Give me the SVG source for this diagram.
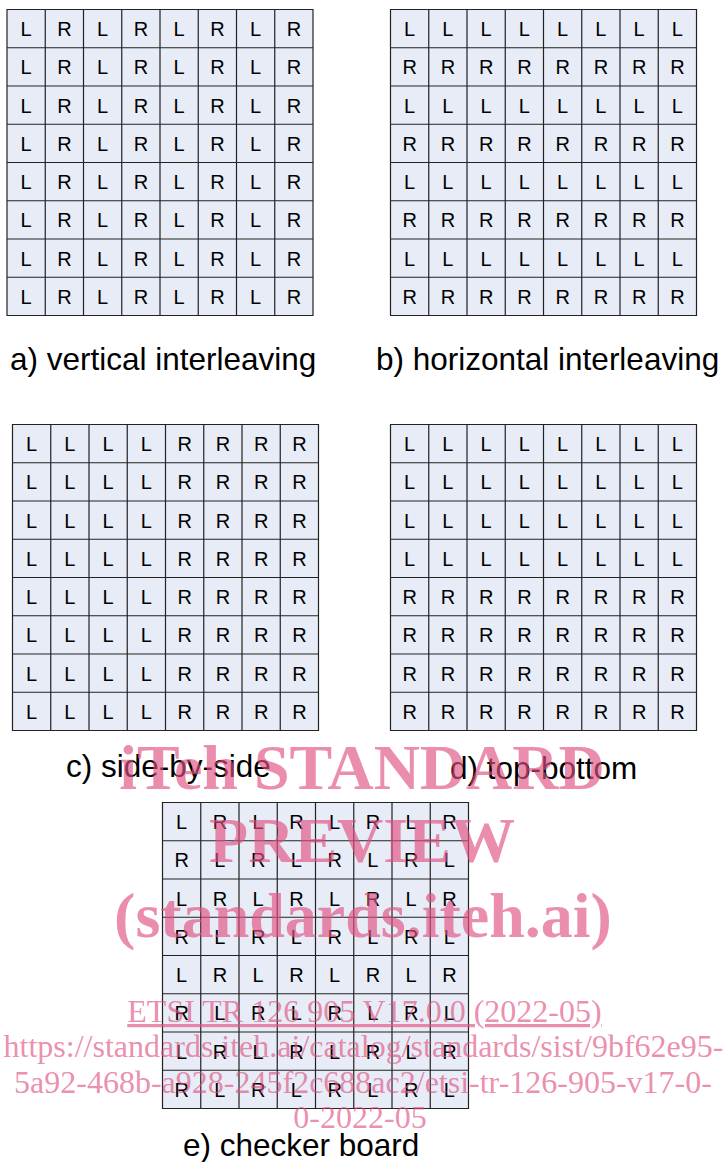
<svg xmlns="http://www.w3.org/2000/svg" width="727" height="1162" viewBox="0 0 727 1162">
<style>
.bg{fill:#e7ecf6;stroke:none}
.gl{fill:none;stroke:#222;stroke-width:1.2}
.c{font-family:"Liberation Sans",Arial,sans-serif;font-size:20px;fill:#000;text-anchor:middle}
.lbl{font-family:"Liberation Sans",Arial,sans-serif;font-size:31.5px;fill:#000}
.wm{font-family:"Liberation Serif","Times New Roman",serif;fill:#e0507f;fill-opacity:0.65;text-anchor:middle}
.wb{font-size:64px;font-weight:bold}
.wr{font-size:32px}
</style>
<defs>
<g id="grid">
<rect class="bg" x="0" y="0" width="306" height="306"/>
<path class="gl" d="M0 0H306V306H0Z M38.25 0V306 M76.5 0V306 M114.75 0V306 M153 0V306 M191.25 0V306 M229.5 0V306 M267.75 0V306 M0 38.25H306 M0 76.5H306 M0 114.75H306 M0 153H306 M0 191.25H306 M0 229.5H306 M0 267.75H306"/>
</g>
</defs>

<g id="panel-a" transform="translate(7,9.5)">
<use href="#grid"/>
<text class="c" x="19.13" y="26.6">L</text><text class="c" x="57.38" y="26.6">R</text><text class="c" x="95.63" y="26.6">L</text><text class="c" x="133.88" y="26.6">R</text><text class="c" x="172.13" y="26.6">L</text><text class="c" x="210.38" y="26.6">R</text><text class="c" x="248.63" y="26.6">L</text><text class="c" x="286.88" y="26.6">R</text>
<text class="c" x="19.13" y="64.85">L</text><text class="c" x="57.38" y="64.85">R</text><text class="c" x="95.63" y="64.85">L</text><text class="c" x="133.88" y="64.85">R</text><text class="c" x="172.13" y="64.85">L</text><text class="c" x="210.38" y="64.85">R</text><text class="c" x="248.63" y="64.85">L</text><text class="c" x="286.88" y="64.85">R</text>
<text class="c" x="19.13" y="103.1">L</text><text class="c" x="57.38" y="103.1">R</text><text class="c" x="95.63" y="103.1">L</text><text class="c" x="133.88" y="103.1">R</text><text class="c" x="172.13" y="103.1">L</text><text class="c" x="210.38" y="103.1">R</text><text class="c" x="248.63" y="103.1">L</text><text class="c" x="286.88" y="103.1">R</text>
<text class="c" x="19.13" y="141.35">L</text><text class="c" x="57.38" y="141.35">R</text><text class="c" x="95.63" y="141.35">L</text><text class="c" x="133.88" y="141.35">R</text><text class="c" x="172.13" y="141.35">L</text><text class="c" x="210.38" y="141.35">R</text><text class="c" x="248.63" y="141.35">L</text><text class="c" x="286.88" y="141.35">R</text>
<text class="c" x="19.13" y="179.6">L</text><text class="c" x="57.38" y="179.6">R</text><text class="c" x="95.63" y="179.6">L</text><text class="c" x="133.88" y="179.6">R</text><text class="c" x="172.13" y="179.6">L</text><text class="c" x="210.38" y="179.6">R</text><text class="c" x="248.63" y="179.6">L</text><text class="c" x="286.88" y="179.6">R</text>
<text class="c" x="19.13" y="217.85">L</text><text class="c" x="57.38" y="217.85">R</text><text class="c" x="95.63" y="217.85">L</text><text class="c" x="133.88" y="217.85">R</text><text class="c" x="172.13" y="217.85">L</text><text class="c" x="210.38" y="217.85">R</text><text class="c" x="248.63" y="217.85">L</text><text class="c" x="286.88" y="217.85">R</text>
<text class="c" x="19.13" y="256.1">L</text><text class="c" x="57.38" y="256.1">R</text><text class="c" x="95.63" y="256.1">L</text><text class="c" x="133.88" y="256.1">R</text><text class="c" x="172.13" y="256.1">L</text><text class="c" x="210.38" y="256.1">R</text><text class="c" x="248.63" y="256.1">L</text><text class="c" x="286.88" y="256.1">R</text>
<text class="c" x="19.13" y="294.35">L</text><text class="c" x="57.38" y="294.35">R</text><text class="c" x="95.63" y="294.35">L</text><text class="c" x="133.88" y="294.35">R</text><text class="c" x="172.13" y="294.35">L</text><text class="c" x="210.38" y="294.35">R</text><text class="c" x="248.63" y="294.35">L</text><text class="c" x="286.88" y="294.35">R</text>
</g>

<g id="panel-b" transform="translate(390.5,9.5)">
<use href="#grid"/>
<text class="c" x="19.13" y="26.6">L</text><text class="c" x="57.38" y="26.6">L</text><text class="c" x="95.63" y="26.6">L</text><text class="c" x="133.88" y="26.6">L</text><text class="c" x="172.13" y="26.6">L</text><text class="c" x="210.38" y="26.6">L</text><text class="c" x="248.63" y="26.6">L</text><text class="c" x="286.88" y="26.6">L</text>
<text class="c" x="19.13" y="64.85">R</text><text class="c" x="57.38" y="64.85">R</text><text class="c" x="95.63" y="64.85">R</text><text class="c" x="133.88" y="64.85">R</text><text class="c" x="172.13" y="64.85">R</text><text class="c" x="210.38" y="64.85">R</text><text class="c" x="248.63" y="64.85">R</text><text class="c" x="286.88" y="64.85">R</text>
<text class="c" x="19.13" y="103.1">L</text><text class="c" x="57.38" y="103.1">L</text><text class="c" x="95.63" y="103.1">L</text><text class="c" x="133.88" y="103.1">L</text><text class="c" x="172.13" y="103.1">L</text><text class="c" x="210.38" y="103.1">L</text><text class="c" x="248.63" y="103.1">L</text><text class="c" x="286.88" y="103.1">L</text>
<text class="c" x="19.13" y="141.35">R</text><text class="c" x="57.38" y="141.35">R</text><text class="c" x="95.63" y="141.35">R</text><text class="c" x="133.88" y="141.35">R</text><text class="c" x="172.13" y="141.35">R</text><text class="c" x="210.38" y="141.35">R</text><text class="c" x="248.63" y="141.35">R</text><text class="c" x="286.88" y="141.35">R</text>
<text class="c" x="19.13" y="179.6">L</text><text class="c" x="57.38" y="179.6">L</text><text class="c" x="95.63" y="179.6">L</text><text class="c" x="133.88" y="179.6">L</text><text class="c" x="172.13" y="179.6">L</text><text class="c" x="210.38" y="179.6">L</text><text class="c" x="248.63" y="179.6">L</text><text class="c" x="286.88" y="179.6">L</text>
<text class="c" x="19.13" y="217.85">R</text><text class="c" x="57.38" y="217.85">R</text><text class="c" x="95.63" y="217.85">R</text><text class="c" x="133.88" y="217.85">R</text><text class="c" x="172.13" y="217.85">R</text><text class="c" x="210.38" y="217.85">R</text><text class="c" x="248.63" y="217.85">R</text><text class="c" x="286.88" y="217.85">R</text>
<text class="c" x="19.13" y="256.1">L</text><text class="c" x="57.38" y="256.1">L</text><text class="c" x="95.63" y="256.1">L</text><text class="c" x="133.88" y="256.1">L</text><text class="c" x="172.13" y="256.1">L</text><text class="c" x="210.38" y="256.1">L</text><text class="c" x="248.63" y="256.1">L</text><text class="c" x="286.88" y="256.1">L</text>
<text class="c" x="19.13" y="294.35">R</text><text class="c" x="57.38" y="294.35">R</text><text class="c" x="95.63" y="294.35">R</text><text class="c" x="133.88" y="294.35">R</text><text class="c" x="172.13" y="294.35">R</text><text class="c" x="210.38" y="294.35">R</text><text class="c" x="248.63" y="294.35">R</text><text class="c" x="286.88" y="294.35">R</text>
</g>

<g id="panel-c" transform="translate(12.5,424.5)">
<use href="#grid"/>
<text class="c" x="19.13" y="26.6">L</text><text class="c" x="57.38" y="26.6">L</text><text class="c" x="95.63" y="26.6">L</text><text class="c" x="133.88" y="26.6">L</text><text class="c" x="172.13" y="26.6">R</text><text class="c" x="210.38" y="26.6">R</text><text class="c" x="248.63" y="26.6">R</text><text class="c" x="286.88" y="26.6">R</text>
<text class="c" x="19.13" y="64.85">L</text><text class="c" x="57.38" y="64.85">L</text><text class="c" x="95.63" y="64.85">L</text><text class="c" x="133.88" y="64.85">L</text><text class="c" x="172.13" y="64.85">R</text><text class="c" x="210.38" y="64.85">R</text><text class="c" x="248.63" y="64.85">R</text><text class="c" x="286.88" y="64.85">R</text>
<text class="c" x="19.13" y="103.1">L</text><text class="c" x="57.38" y="103.1">L</text><text class="c" x="95.63" y="103.1">L</text><text class="c" x="133.88" y="103.1">L</text><text class="c" x="172.13" y="103.1">R</text><text class="c" x="210.38" y="103.1">R</text><text class="c" x="248.63" y="103.1">R</text><text class="c" x="286.88" y="103.1">R</text>
<text class="c" x="19.13" y="141.35">L</text><text class="c" x="57.38" y="141.35">L</text><text class="c" x="95.63" y="141.35">L</text><text class="c" x="133.88" y="141.35">L</text><text class="c" x="172.13" y="141.35">R</text><text class="c" x="210.38" y="141.35">R</text><text class="c" x="248.63" y="141.35">R</text><text class="c" x="286.88" y="141.35">R</text>
<text class="c" x="19.13" y="179.6">L</text><text class="c" x="57.38" y="179.6">L</text><text class="c" x="95.63" y="179.6">L</text><text class="c" x="133.88" y="179.6">L</text><text class="c" x="172.13" y="179.6">R</text><text class="c" x="210.38" y="179.6">R</text><text class="c" x="248.63" y="179.6">R</text><text class="c" x="286.88" y="179.6">R</text>
<text class="c" x="19.13" y="217.85">L</text><text class="c" x="57.38" y="217.85">L</text><text class="c" x="95.63" y="217.85">L</text><text class="c" x="133.88" y="217.85">L</text><text class="c" x="172.13" y="217.85">R</text><text class="c" x="210.38" y="217.85">R</text><text class="c" x="248.63" y="217.85">R</text><text class="c" x="286.88" y="217.85">R</text>
<text class="c" x="19.13" y="256.1">L</text><text class="c" x="57.38" y="256.1">L</text><text class="c" x="95.63" y="256.1">L</text><text class="c" x="133.88" y="256.1">L</text><text class="c" x="172.13" y="256.1">R</text><text class="c" x="210.38" y="256.1">R</text><text class="c" x="248.63" y="256.1">R</text><text class="c" x="286.88" y="256.1">R</text>
<text class="c" x="19.13" y="294.35">L</text><text class="c" x="57.38" y="294.35">L</text><text class="c" x="95.63" y="294.35">L</text><text class="c" x="133.88" y="294.35">L</text><text class="c" x="172.13" y="294.35">R</text><text class="c" x="210.38" y="294.35">R</text><text class="c" x="248.63" y="294.35">R</text><text class="c" x="286.88" y="294.35">R</text>
</g>

<g id="panel-d" transform="translate(390.5,424.5)">
<use href="#grid"/>
<text class="c" x="19.13" y="26.6">L</text><text class="c" x="57.38" y="26.6">L</text><text class="c" x="95.63" y="26.6">L</text><text class="c" x="133.88" y="26.6">L</text><text class="c" x="172.13" y="26.6">L</text><text class="c" x="210.38" y="26.6">L</text><text class="c" x="248.63" y="26.6">L</text><text class="c" x="286.88" y="26.6">L</text>
<text class="c" x="19.13" y="64.85">L</text><text class="c" x="57.38" y="64.85">L</text><text class="c" x="95.63" y="64.85">L</text><text class="c" x="133.88" y="64.85">L</text><text class="c" x="172.13" y="64.85">L</text><text class="c" x="210.38" y="64.85">L</text><text class="c" x="248.63" y="64.85">L</text><text class="c" x="286.88" y="64.85">L</text>
<text class="c" x="19.13" y="103.1">L</text><text class="c" x="57.38" y="103.1">L</text><text class="c" x="95.63" y="103.1">L</text><text class="c" x="133.88" y="103.1">L</text><text class="c" x="172.13" y="103.1">L</text><text class="c" x="210.38" y="103.1">L</text><text class="c" x="248.63" y="103.1">L</text><text class="c" x="286.88" y="103.1">L</text>
<text class="c" x="19.13" y="141.35">L</text><text class="c" x="57.38" y="141.35">L</text><text class="c" x="95.63" y="141.35">L</text><text class="c" x="133.88" y="141.35">L</text><text class="c" x="172.13" y="141.35">L</text><text class="c" x="210.38" y="141.35">L</text><text class="c" x="248.63" y="141.35">L</text><text class="c" x="286.88" y="141.35">L</text>
<text class="c" x="19.13" y="179.6">R</text><text class="c" x="57.38" y="179.6">R</text><text class="c" x="95.63" y="179.6">R</text><text class="c" x="133.88" y="179.6">R</text><text class="c" x="172.13" y="179.6">R</text><text class="c" x="210.38" y="179.6">R</text><text class="c" x="248.63" y="179.6">R</text><text class="c" x="286.88" y="179.6">R</text>
<text class="c" x="19.13" y="217.85">R</text><text class="c" x="57.38" y="217.85">R</text><text class="c" x="95.63" y="217.85">R</text><text class="c" x="133.88" y="217.85">R</text><text class="c" x="172.13" y="217.85">R</text><text class="c" x="210.38" y="217.85">R</text><text class="c" x="248.63" y="217.85">R</text><text class="c" x="286.88" y="217.85">R</text>
<text class="c" x="19.13" y="256.1">R</text><text class="c" x="57.38" y="256.1">R</text><text class="c" x="95.63" y="256.1">R</text><text class="c" x="133.88" y="256.1">R</text><text class="c" x="172.13" y="256.1">R</text><text class="c" x="210.38" y="256.1">R</text><text class="c" x="248.63" y="256.1">R</text><text class="c" x="286.88" y="256.1">R</text>
<text class="c" x="19.13" y="294.35">R</text><text class="c" x="57.38" y="294.35">R</text><text class="c" x="95.63" y="294.35">R</text><text class="c" x="133.88" y="294.35">R</text><text class="c" x="172.13" y="294.35">R</text><text class="c" x="210.38" y="294.35">R</text><text class="c" x="248.63" y="294.35">R</text><text class="c" x="286.88" y="294.35">R</text>
</g>

<g id="panel-e" transform="translate(162.5,802.5)">
<use href="#grid"/>
<text class="c" x="19.13" y="26.6">L</text><text class="c" x="57.38" y="26.6">R</text><text class="c" x="95.63" y="26.6">L</text><text class="c" x="133.88" y="26.6">R</text><text class="c" x="172.13" y="26.6">L</text><text class="c" x="210.38" y="26.6">R</text><text class="c" x="248.63" y="26.6">L</text><text class="c" x="286.88" y="26.6">R</text>
<text class="c" x="19.13" y="64.85">R</text><text class="c" x="57.38" y="64.85">L</text><text class="c" x="95.63" y="64.85">R</text><text class="c" x="133.88" y="64.85">L</text><text class="c" x="172.13" y="64.85">R</text><text class="c" x="210.38" y="64.85">L</text><text class="c" x="248.63" y="64.85">R</text><text class="c" x="286.88" y="64.85">L</text>
<text class="c" x="19.13" y="103.1">L</text><text class="c" x="57.38" y="103.1">R</text><text class="c" x="95.63" y="103.1">L</text><text class="c" x="133.88" y="103.1">R</text><text class="c" x="172.13" y="103.1">L</text><text class="c" x="210.38" y="103.1">R</text><text class="c" x="248.63" y="103.1">L</text><text class="c" x="286.88" y="103.1">R</text>
<text class="c" x="19.13" y="141.35">R</text><text class="c" x="57.38" y="141.35">L</text><text class="c" x="95.63" y="141.35">R</text><text class="c" x="133.88" y="141.35">L</text><text class="c" x="172.13" y="141.35">R</text><text class="c" x="210.38" y="141.35">L</text><text class="c" x="248.63" y="141.35">R</text><text class="c" x="286.88" y="141.35">L</text>
<text class="c" x="19.13" y="179.6">L</text><text class="c" x="57.38" y="179.6">R</text><text class="c" x="95.63" y="179.6">L</text><text class="c" x="133.88" y="179.6">R</text><text class="c" x="172.13" y="179.6">L</text><text class="c" x="210.38" y="179.6">R</text><text class="c" x="248.63" y="179.6">L</text><text class="c" x="286.88" y="179.6">R</text>
<text class="c" x="19.13" y="217.85">R</text><text class="c" x="57.38" y="217.85">L</text><text class="c" x="95.63" y="217.85">R</text><text class="c" x="133.88" y="217.85">L</text><text class="c" x="172.13" y="217.85">R</text><text class="c" x="210.38" y="217.85">L</text><text class="c" x="248.63" y="217.85">R</text><text class="c" x="286.88" y="217.85">L</text>
<text class="c" x="19.13" y="256.1">L</text><text class="c" x="57.38" y="256.1">R</text><text class="c" x="95.63" y="256.1">L</text><text class="c" x="133.88" y="256.1">R</text><text class="c" x="172.13" y="256.1">L</text><text class="c" x="210.38" y="256.1">R</text><text class="c" x="248.63" y="256.1">L</text><text class="c" x="286.88" y="256.1">R</text>
<text class="c" x="19.13" y="294.35">R</text><text class="c" x="57.38" y="294.35">L</text><text class="c" x="95.63" y="294.35">R</text><text class="c" x="133.88" y="294.35">L</text><text class="c" x="172.13" y="294.35">R</text><text class="c" x="210.38" y="294.35">L</text><text class="c" x="248.63" y="294.35">R</text><text class="c" x="286.88" y="294.35">L</text>
</g>

<g id="labels">
<text class="lbl" x="10" y="370">a) vertical interleaving</text>
<text class="lbl" x="376" y="370">b) horizontal interleaving</text>
<text class="lbl" x="66" y="777">c) side-by-side</text>
<text class="lbl" x="450" y="779">d) top-bottom</text>
<text class="lbl" x="183" y="1156">e) checker board</text>
</g>

<g id="watermark">
<text class="wm wb" x="362" y="789">iTeh STANDARD</text>
<text class="wm wb" x="362" y="862">PREVIEW</text>
<text class="wm wb" x="363" y="937">(standards.iteh.ai)</text>
<text class="wm wr" x="364.5" y="1022" text-decoration="underline">ETSI TR 126 905 V17.0.0 (2022-05)</text>
<text class="wm wr" x="363.5" y="1057">https://standards.iteh.ai/catalog/standards/sist/9bf62e95-</text>
<text class="wm wr" x="363" y="1093">5a92-468b-a928-245f2c688ac2/etsi-tr-126-905-v17-0-</text>
<text class="wm wr" x="360" y="1128">0-2022-05</text>
</g>
</svg>
